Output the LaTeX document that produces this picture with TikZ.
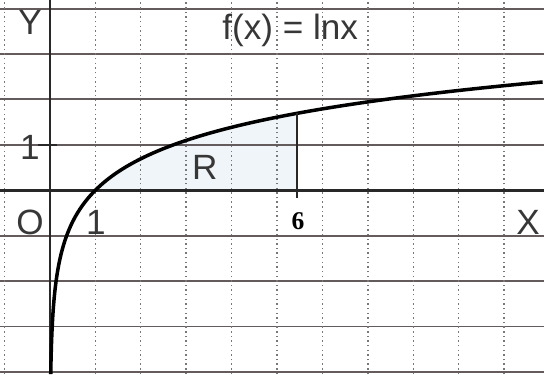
\documentclass[tikz,border=0pt]{standalone}
\usepackage{fontspec}
\setmainfont{Liberation Sans}
\newfontfamily\numfont{Liberation Serif}
\definecolor{gridgray}{RGB}{100,92,92}
\definecolor{dotgray}{RGB}{120,120,120}
\definecolor{axisgray}{RGB}{40,40,40}
\definecolor{textgray}{RGB}{55,55,55}
\definecolor{regionblue}{RGB}{240,245,249}
\usetikzlibrary{positioning}

\begin{document}
\begin{tikzpicture}[
  gridrow/.style={gridgray,line width=1.2pt},
  gridcol/.style={dotgray,line width=0.9pt,dotted},
  axisline/.style={axisgray,line width=1.6pt},
  curveline/.style={black,line width=2.2pt},
  lbl/.style={font=\fontsize{22}{24}\selectfont,textgray,inner sep=0pt},
  box6/.style={fill=white,inner sep=0pt,minimum width=0.85cm,minimum height=0.62cm,
    font=\numfont\bfseries\fontsize{16}{18}\selectfont}
]
  \useasboundingbox (-1.1,-4.05) rectangle (10.88,4.19);
  % Region R
  \fill[regionblue] (1,0) -- plot[domain=0:1.694,samples=30,variable=\t] ({exp(\t)},\t) -- (5.44,0) -- cycle;
  % Grid
  \foreach \y in {-4,-3,-2,-1,1,2,3,4}
    \draw[gridrow] (-1.1,\y) -- (10.88,\y);
  \foreach \x in {-1,1,2,...,10}
    \draw[gridcol] (\x,-4.05) -- (\x,4.19);
  % Axes
  \coordinate (xleft) at (-1.1,0);
  \coordinate (xright) at (10.88,0);
  \coordinate (ybottom) at (0,-4.05);
  \coordinate (ytop) at (0,4.19);
  \draw[axisline] (xleft) -- (xright);
  \draw[axisline] (ybottom) -- (ytop);
  \coordinate (tickl) at (-0.26,1);
  \coordinate (tickr) at (0.15,1);
  \draw[axisline] (tickl) -- (tickr);
  % Curve
  \draw[curveline] plot[domain=-4.05:2.386,samples=150,variable=\t] ({exp(\t)},\t);
  % Line at 6
  \coordinate (top6) at (5.44,1.694);
  \coordinate (foot6) at (5.44,-0.18);
  \draw[axisline] (top6) -- (foot6);
  \node[box6] (six) at (5.46,-0.68) {6};
  % Labels
  \node[lbl] (ylabel) at (-0.44,3.70) {Y};
  \node[lbl] (title) at (5.29,3.52) {f(x) = lnx};
  \node[lbl] (one) at (-0.44,0.95) {1};
  \node[lbl] (origin) at (-0.44,-0.70) {O};
  \node[lbl] (xone) at (1.01,-0.70) {1};
  \node[lbl] (xlabel) at (10.53,-0.70) {X};
  \node[lbl] (region) at (3.41,0.51) {R};
\end{tikzpicture}
\end{document}
